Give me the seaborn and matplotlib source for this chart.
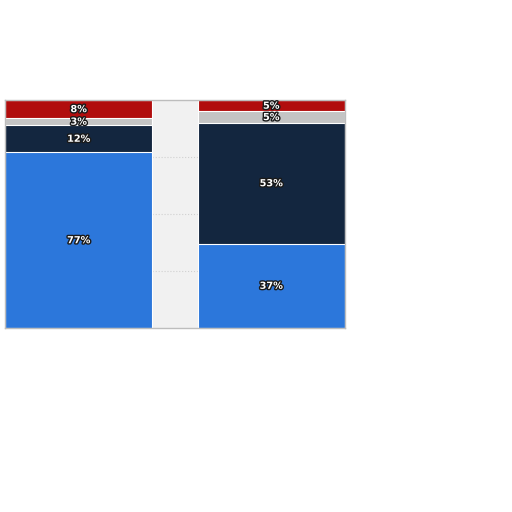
import seaborn as sns
import matplotlib.pyplot as plt
import matplotlib.patheffects as pe
import numpy as np
import pandas as pd

# Data (percent shares, bottom to top)
groups = ["Group 1", "Group 2"]
blue_vals = [77, 37]
navy_vals = [12, 53]
gray_vals = [3, 5]
red_vals = [8, 5]

series = [blue_vals, navy_vals, gray_vals, red_vals]
colors = ["#2C77DB", "#13263F", "#C4C4C4", "#B10D0D"]

if __name__ == "__main__":
    sns.set_style("white")
    fig = plt.figure(figsize=(5.12, 5.12), dpi=100)
    ax = fig.add_axes([5 / 512, 1 - 328 / 512, 340 / 512, 228 / 512])
    ax.set_facecolor("#F1F1F1")

    cum = np.cumsum(np.array(series), axis=0)
    # draw from the top tier down so each lower tier covers the one above
    for i in range(len(series) - 1, -1, -1):
        df = pd.DataFrame({"group": groups, "value": cum[i]})
        sns.barplot(data=df, x="group", y="value", color=colors[i],
                    width=0.766, edgecolor="white", linewidth=0.8,
                    saturation=1, ax=ax, zorder=2)

    # labels
    for j in range(len(groups)):
        bottom = 0
        for i, vals in enumerate(series):
            v = vals[j]
            ax.text(j, bottom + v / 2, f"{v}%", ha="center", va="center",
                    color="white", fontsize=7, fontweight="bold", zorder=5,
                    path_effects=[pe.withStroke(linewidth=2, foreground="#1a1a1a")])
            bottom += v

    ax.set_xlim(-0.383, 1.383)
    ax.set_ylim(0, 100)
    ax.set_yticks([25, 50, 75])
    ax.yaxis.grid(True, color="#d0d0d0", linestyle=":", linewidth=0.8, zorder=0)
    ax.set_axisbelow(True)
    ax.tick_params(left=False, bottom=False, labelleft=False, labelbottom=False)
    ax.set_xlabel("")
    ax.set_ylabel("")
    for s in ax.spines.values():
        s.set_color("#bdbdbd")
        s.set_linewidth(1)

    fig.savefig("out.png", dpi=100, facecolor="white")
